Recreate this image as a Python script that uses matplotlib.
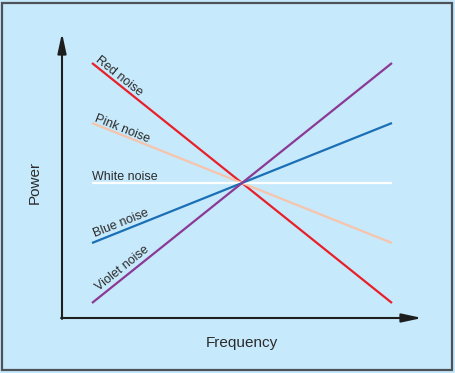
import math
import matplotlib.pyplot as plt
from matplotlib.patches import Rectangle

# noise spectra, endpoints on the (log) frequency axis
freq = [1, 11]
noise_names = ["Red noise", "Pink noise", "White noise", "Blue noise", "Violet noise"]
power = {
    "Red noise": [8.5, 0.5],
    "Pink noise": [6.5, 2.5],
    "White noise": [4.5, 4.5],
    "Blue noise": [2.5, 6.5],
    "Violet noise": [0.5, 8.5],
}
colors = {
    "Red noise": "#e8202a",
    "Pink noise": "#f8c3ab",
    "White noise": "#ffffff",
    "Blue noise": "#1b6fb4",
    "Violet noise": "#8a3a95",
}
# label placement in pixels: (along the line, off the line)
label_shift = {
    "Red noise": (1, 3.5),
    "Pink noise": (1, 3),
    "White noise": (0, 3),
    "Blue noise": (5, 4.5),
    "Violet noise": (13, 4.5),
}

bg = "#c6e9fb"
txt = "#2b2b2b"
plt.rcParams['font.family'] = ['Liberation Sans', 'DejaVu Sans']

fig = plt.figure(figsize=(4.55, 3.73), dpi=100)
fig.patch.set_facecolor(bg)
fig.patches.append(Rectangle((2 / 455, 3 / 373), 450 / 455, 367 / 373, transform=fig.transFigure,
                             fill=False, edgecolor="#4d5358", linewidth=1.6))

# axes placed so 1 data unit = 30 px in both directions
ax = fig.add_axes([62 / 455, 55 / 373, 360 / 455, 285 / 373])
ax.set_facecolor(bg)
ax.set_xlim(0, 12)
ax.set_ylim(0, 9.5)
for s in ax.spines.values():
    s.set_visible(False)
ax.set_xticks([])
ax.set_yticks([])

px = 1 / 30  # one pixel in data units
for name in noise_names:
    ax.plot(freq, power[name], color=colors[name], linewidth=1.6, solid_capstyle='butt', zorder=3)
    y0, y1 = power[name]
    a = math.atan((y1 - y0) / (freq[1] - freq[0]))
    along, perp = label_shift[name]
    tx = freq[0] + along * px * math.cos(a) - perp * px * math.sin(a)
    ty = y0 + along * px * math.sin(a) + perp * px * math.cos(a)
    ax.text(tx, ty, name, rotation=math.degrees(a), rotation_mode='anchor',
            ha='left', va='baseline', fontsize=9, color=txt)

# axis arrows
arrow = dict(arrowstyle='-|>,head_length=1.2,head_width=0.26', color='#1e1e1e', linewidth=1.5,
             shrinkA=0, shrinkB=0)
ax.annotate('', xy=(0, 9.5), xytext=(0, -0.03), arrowprops=arrow, annotation_clip=False)
ax.annotate('', xy=(12.0, 0), xytext=(-0.03, 0), arrowprops=arrow, annotation_clip=False)

fig.text(242 / 455, 1 - 343 / 373, "Frequency", ha='center', va='center', fontsize=11, color=txt)
fig.text(35 / 455, 1 - 182 / 373, "Power", ha='center', va='center', rotation=90, fontsize=11, color=txt)

fig.savefig("out.png", dpi=100, facecolor=bg)
